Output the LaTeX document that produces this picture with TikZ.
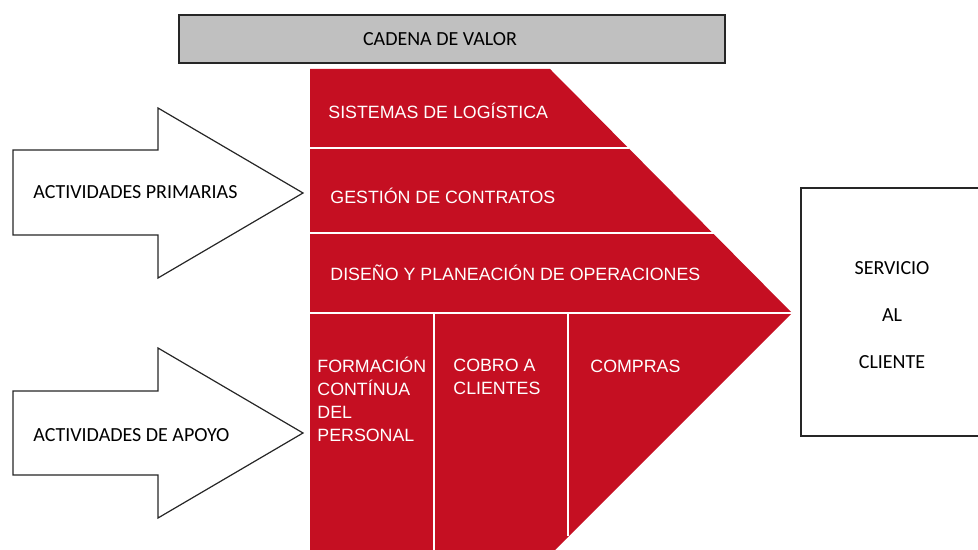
\documentclass[tikz,border=0pt]{standalone}
\usepackage{fontspec}
\setmainfont{Liberation Sans}
\newfontfamily\calibri{Carlito}
\usepackage{xcolor}
\definecolor{rojo}{HTML}{C50F22}
\definecolor{grisclaro}{HTML}{C0C0C0}
\definecolor{darkgray}{HTML}{262626}
\usetikzlibrary{positioning}

\begin{document}
\begin{tikzpicture}[x = 0.5pt, y = -0.5pt,
    flecha/.style = {draw = darkgray, fill = white, line width = 0.6pt, line join = miter},
    rotulo/.style = {text = white, inner sep = 0pt, anchor = base west, align = left,
        font = \fontsize{8.9}{11.5}\selectfont},
    etiqueta/.style = {text = black, inner sep = 0pt, font = \calibri\fontsize{10}{12}\selectfont},
    separador/.style = {draw = white, line width = 0.9pt}]
    \clip (0,0) rectangle (978,550);
    % titulo
    \node (titulo) [draw = darkgray, fill = grisclaro, line width = 0.7pt,
        minimum width = 273pt, minimum height = 24pt] at (452,39) {};
    \node (cadena) [etiqueta] at (440,39) {CADENA DE VALOR};
    % bloque rojo
    \fill[rojo] (310,69) -- (550,69) -- (792,313) -- (537,568) -- (310,568) -- cycle;
    \draw[separador] (310,148) -- (629,148);
    \draw[separador] (310,233) -- (714,233);
    \draw[separador] (310,313) -- (792,313);
    \draw[separador] (434,313) -- (434,560);
    \draw[separador] (568,313) -- (568,536);
    \node (logistica) [rotulo] at (328,119) {SISTEMAS DE LOGÍSTICA};
    \node (contratos) [rotulo] at (330,204) {GESTIÓN DE CONTRATOS};
    \node (operaciones) [rotulo] at (330,281) {DISEÑO Y PLANEACIÓN DE OPERACIONES};
    \node (formacion) [rotulo, anchor = north west] at (317,357) {FORMACIÓN\\CONTÍNUA\\DEL\\PERSONAL};
    \node (cobro) [rotulo, anchor = north west] at (453,359) {COBRO A\\CLIENTES};
    \node (compras) [rotulo] at (590,372) {COMPRAS};
    % flechas
    \draw[flecha] (13,150) -- (158,150) -- (158,108) -- (303,193) -- (158,278) -- (158,235) -- (13,235) -- cycle;
    \draw[flecha] (13,391) -- (158,391) -- (158,348) -- (303,433) -- (158,518) -- (158,475) -- (13,475) -- cycle;
    \node (primarias) [etiqueta, anchor = base west] at (33,199) {ACTIVIDADES PRIMARIAS};
    \node (apoyo) [etiqueta, anchor = base west] at (33,441) {ACTIVIDADES DE APOYO};
    % servicio al cliente
    \draw[draw = darkgray, line width = 0.7pt] (801,188) rectangle (995,436);
    \node (cliente) [etiqueta, align = center, font = \calibri\fontsize{10}{23.5}\selectfont]
        at (892,315) {SERVICIO\\AL\\CLIENTE};
\end{tikzpicture}
\end{document}
